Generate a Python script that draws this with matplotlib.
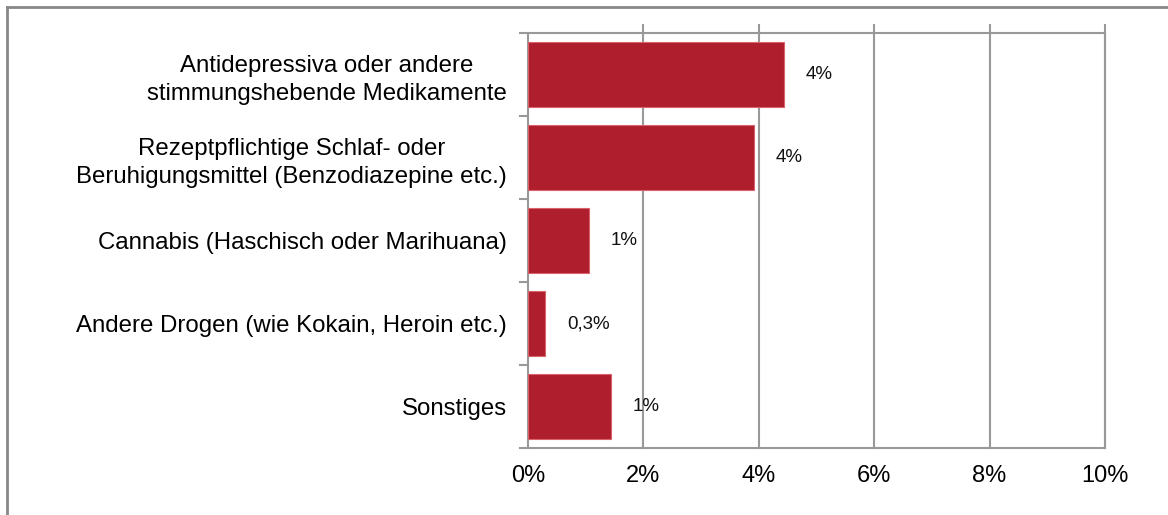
import matplotlib.pyplot as plt
from matplotlib.lines import Line2D

plt.rcParams['font.family'] = ['Liberation Sans', 'DejaVu Sans']

categories = [
    "Antidepressiva oder andere\nstimmungshebende Medikamente",
    "Rezeptpflichtige Schlaf- oder\nBeruhigungsmittel (Benzodiazepine etc.)",
    "Cannabis (Haschisch oder Marihuana)",
    "Andere Drogen (wie Kokain, Heroin etc.)",
    "Sonstiges",
]
values = [4.44, 3.91, 1.06, 0.30, 1.44]
value_labels = ["4%", "4%", "1%", "0,3%", "1%"]
x_ticks = [0, 2, 4, 6, 8, 10]
x_tick_labels = ["0%", "2%", "4%", "6%", "8%", "10%"]

bar_color = '#AF1E2D'
grid_color = '#999999'

fig = plt.figure(figsize=(11.68, 5.15), dpi=100)
ax = fig.add_axes([0.452, 0.130, 0.494, 0.806])

y = list(range(len(categories)))
ax.barh(y, values, height=0.78, color=bar_color, edgecolor='#D9636D', linewidth=0.8, zorder=3)

ax.set_xlim(0, 10)
ax.set_ylim(len(categories) - 0.5, -0.5)

# vertical gridlines, poking a bit above the top edge
for xv in x_ticks[1:]:
    ax.plot([xv, xv], [len(categories) - 0.5, -0.6], color=grid_color, lw=1.5,
            clip_on=False, zorder=1)

ax.set_xticks(x_ticks)
ax.set_xticklabels(x_tick_labels, fontsize=17)
ax.tick_params(axis='x', length=0, pad=12)

ax.set_yticks(y)
ax.set_yticklabels(categories, fontsize=17.3, ha='right', multialignment='center',
                   linespacing=1.35)
ax.tick_params(axis='y', length=0, pad=15)

# category separator ticks on the y axis
for b in [i - 0.5 for i in range(len(categories) + 1)]:
    ax.plot([-0.13, 0], [b, b], color=grid_color, lw=1.5, clip_on=False, zorder=2)

for sp in ['top', 'bottom', 'left', 'right']:
    ax.spines[sp].set_color(grid_color)
    ax.spines[sp].set_linewidth(1.5)

for yi, v, lab in zip(y, values, value_labels):
    ax.annotate(lab, xy=(v, yi), xytext=(22, 0), textcoords='offset pixels',
                ha='left', va='center', fontsize=13.5, color='#111111')

# outer frame (top and left edges only)
fig.add_artist(Line2D([7 / 1168, 1], [1 - 7 / 515, 1 - 7 / 515],
                      transform=fig.transFigure, color='#888888', lw=2))
fig.add_artist(Line2D([7 / 1168, 7 / 1168], [0, 1 - 7 / 515],
                      transform=fig.transFigure, color='#888888', lw=2))

fig.savefig('out.png', dpi=100)
